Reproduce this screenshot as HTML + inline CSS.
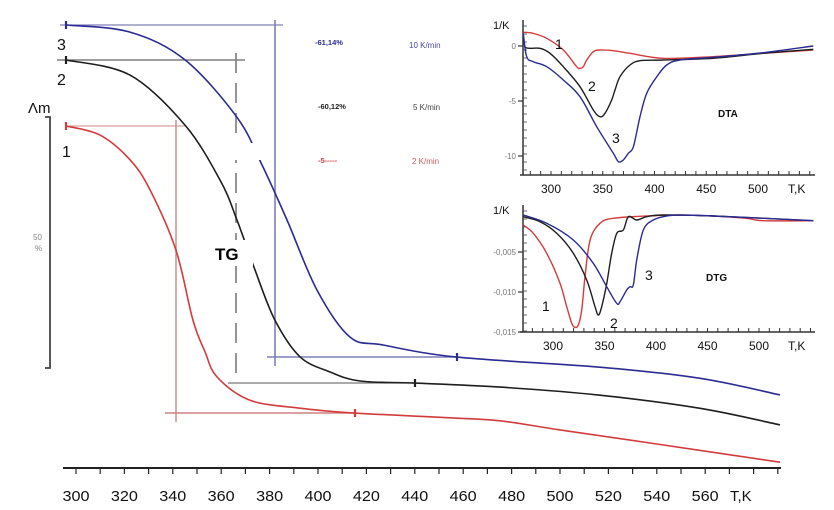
<!DOCTYPE html>
<html><head><meta charset="utf-8"><style>
html,body{margin:0;padding:0;background:#fff;}
svg{display:block;font-family:"Liberation Sans",sans-serif;}
</style></head><body>
<svg id="c" width="834" height="510" viewBox="0 0 834 510" xmlns="http://www.w3.org/2000/svg">
<g id="main"></g>
<g id="dta"></g>
<g id="dtg"></g>
</svg>
<script>
// ---- TG data (temperature K, remaining mass %) ----
const tgT1=[295.9,309.9,322.3,330.6,341.3,348.3,353.3,358.3,371.9,392.6,413.2,454.5,475.2,500,537.2,590.9];
const tgM1=[100,98.2,93.3,87.3,75.4,61.5,55.2,50.2,45.6,44.0,43.1,42.1,41.5,39.7,37.1,33.3];
const tgT2=[295.9,322.3,345,359.5,366.5,374,382.2,392.6,405,417.4,440.1,475.2,516.5,557.9,590.9];
const tgM2=[100,97.0,87.1,76.2,68.3,58.3,48.4,41.1,38.1,36.3,35.9,35.1,33.5,30.9,27.6];
const tgT3=[295.9,322.3,345,366.5,376.9,387.2,399.6,413.2,426.9,457.4,516.5,557.9,590.9];
const tgM3=[100,98.6,93.1,81.7,72.2,61.3,47.4,38.1,36.5,34.1,32.1,29.9,26.6];
const tgTicks=[300,320,340,360,380,400,420,440,460,480,500,520,540,560];
// ---- DTA data ----
const dtaT1=[273.2,282.9,295.8,311.9,324.8,328,331.2,334.5,340.9,347.3,360.2,376.3,408.5,456.8,505.1,553.4];
const dtaV1=[1.25,1.15,0.7,-0.36,-1.88,-2.03,-1.88,-1.27,-0.52,-0.36,-0.43,-0.66,-1.12,-0.97,-0.66,-0.36];
const dtaT2=[273.2,274.9,279.7,289.4,299,311.9,328,340.9,347.3,352.2,358.6,361.8,366.7,376.3,386,408.5,456.8,505.1,553.4];
const dtaV2=[0.85,-0.06,-0.21,-0.21,-0.66,-1.88,-3.7,-5.82,-6.43,-6.12,-4.91,-4,-2.79,-1.73,-1.34,-1.27,-1.12,-0.66,-0.3];
const dtaT3=[273.2,276.5,282.9,295.8,311.9,328,344.2,360.2,365.1,369.9,374.7,379.6,386,392.5,402.2,411.8,424.6,456.8,505.1,553.4];
const dtaV3=[1.15,-0.97,-1.43,-1.88,-3.09,-4.61,-7.34,-9.75,-10.52,-10.36,-9.75,-9.15,-6.43,-4.3,-2.79,-1.73,-1.27,-1.03,-0.61,0];
const dtaYTicks=[0,-5,-10];
const insetXTicks=[300,350,400,450,500];
// ---- DTG data (units of 0.001 1/K) ----
const dtgT1=[271.2,280.9,293.9,306.8,313.3,318.2,321.4,324.6,327.9,331.1,336,345.6,358.5,391,423.3,455.6,488,504.2,552.7];
const dtgV1=[-1.63,-2.66,-5.16,-8.91,-11.84,-13.91,-14.41,-14.13,-12.25,-8.09,-3.5,-1.41,-0.79,-0.5,-0.38,-0.5,-0.79,-1.09,-1.09];
const dtgT2=[271.2,287.4,303.6,319.7,332.7,340.8,344,347.3,352.2,357,361.9,368.3,373.2,381.3,391,407.1,455.6,552.7];
const dtgV2=[-0.59,-1.21,-2.66,-5.16,-8.5,-11.84,-12.88,-11.84,-8.91,-5.16,-2.66,-2.25,-0.59,-1,-0.59,-0.38,-0.5,-1.09];
const dtgT3=[271.2,293.9,319.7,339.1,352.1,361.8,365,371.6,374.8,378,381.3,387.7,397.4,410.4,423.3,455.6,552.7];
const dtgV3=[-0.38,-1.41,-3.5,-6.41,-9.34,-11.41,-11.21,-9.75,-9.34,-9.13,-6,-2.25,-1,-0.5,-0.38,-0.5,-1.09];
const dtgYTicks=[-5,-10,-15];
const dtgYLabels=["-0,005","-0,010","-0,015"];

const NS="http://www.w3.org/2000/svg";
function mk(parent,tag,attrs,text){const e=document.createElementNS(NS,tag);for(const k in attrs)e.setAttribute(k,attrs[k]);if(text!==undefined)e.textContent=text;parent.appendChild(e);return e;}
function smooth(pts){let d="M"+pts[0][0].toFixed(1)+","+pts[0][1].toFixed(1);
 for(let i=0;i<pts.length-1;i++){const p0=pts[Math.max(0,i-1)],p1=pts[i],p2=pts[i+1],p3=pts[Math.min(pts.length-1,i+2)];
 const c1=[p1[0]+(p2[0]-p0[0])/6,p1[1]+(p2[1]-p0[1])/6],c2=[p2[0]-(p3[0]-p1[0])/6,p2[1]-(p3[1]-p1[1])/6];
 d+=" C"+c1[0].toFixed(1)+","+c1[1].toFixed(1)+" "+c2[0].toFixed(1)+","+c2[1].toFixed(1)+" "+p2[0].toFixed(1)+","+p2[1].toFixed(1);}return d;}
const BLUE="#2b2b94",RED="#d23c3c",BLK="#1e1e1e";

// ===== MAIN TG =====
const M=document.getElementById('main');
const xM=T=>76+(T-300)*2.42;
const starts=[126,60,25];
const yM=(m,k)=>starts[k]+(100-m)*5.04;
// guide lines
let e;
e=mk(M,'line',{x1:60,y1:25,x2:283,y2:25,stroke:"#7f7fb8","stroke-width":1.3});

e=mk(M,'line',{x1:275,y1:20,x2:275,y2:366,stroke:"#7f7fb8","stroke-width":1.6});

e=mk(M,'line',{x1:267,y1:357,x2:457,y2:357,stroke:"#7f7fb8","stroke-width":1.5});

e=mk(M,'line',{x1:57,y1:60,x2:245,y2:60,stroke:"#666","stroke-width":1.2});

e=mk(M,'line',{x1:236,y1:53,x2:236,y2:383,stroke:"#888","stroke-width":1.8,"stroke-dasharray":"20,10"});

e=mk(M,'line',{x1:228,y1:383,x2:415,y2:383,stroke:"#777","stroke-width":1.3});

e=mk(M,'line',{x1:66,y1:126,x2:185,y2:126,stroke:"#d8a0a0","stroke-width":1.3});

e=mk(M,'line',{x1:176,y1:120,x2:176,y2:422,stroke:"#c89090","stroke-width":1.5});

e=mk(M,'line',{x1:165,y1:413,x2:355,y2:413,stroke:"#d08080","stroke-width":1.5});

// curves
[[tgT1,tgM1,RED,0],[tgT2,tgM2,BLK,1],[tgT3,tgM3,BLUE,2]].forEach(([T,Mv,col,k])=>{
 const pts=T.map((t,i)=>[xM(t),yM(Mv[i],k)]);
 const p=mk(M,'path',{d:smooth(pts),fill:"none",stroke:col,"stroke-width":1.6});
 
 
});
// gap masks
e=mk(M,'rect',{x:233,y:143,width:30,height:17,fill:"#fff"});

e=mk(M,'rect',{x:213,y:240,width:40,height:26,fill:"#fff"});

e=mk(M,'text',{x:215,y:260,"font-size":17,"font-weight":"bold",fill:"#000"},"TG");

// point markers
[[66,25,BLUE],[66,60,BLK],[66,126,RED],[457,357,BLUE],[415,383,BLK],[355,413,RED]].forEach(([x,y,c])=>{
 const m=mk(M,'line',{x1:x,y1:y-4,x2:x,y2:y+4,stroke:c,"stroke-width":2.2});
 
 
});
// curve number labels
[["3",57,50],["2",57,85],["1",62,157]].forEach(([t,x,y])=>{
 const l=mk(M,'text',{x:x,y:y,"font-size":16,fill:"#111"},t);
 
 
});
// Δm scale bar
e=mk(M,'text',{x:28,y:113,"font-size":15,fill:"#111"},"Λm");

e=mk(M,'path',{d:"M45,117 H50 V368 H45",fill:"none",stroke:"#444","stroke-width":1.8});

e=mk(M,'text',{x:33,y:240,"font-size":8,fill:"#888"},"50");

e=mk(M,'text',{x:35,y:251,"font-size":8,fill:"#888"},"%");

// legend
[["-61,14%",315,45,BLUE,"10 K/min",409,48],["-60,12%",318,109,BLK,"5 K/min",413,110],["-5-----",318,163,RED,"2 K/min",412,164]].forEach(([a,x,y,c,b,x2,y2],i)=>{
 const t1=mk(M,'text',{x:x,y:y,"font-size":7.5,"font-weight":"bold",fill:c},a);
 
 
 const t2=mk(M,'text',{x:x2,y:y2,"font-size":8,fill:c,opacity:0.85},b);
 
 
});
// x axis
e=mk(M,'line',{x1:63,y1:468,x2:781,y2:468,stroke:"#222","stroke-width":2});

for(let T=290;T<=590;T+=10){const x=xM(T);if(x<63||x>781)continue;
 const t=mk(M,'line',{x1:x,y1:468,x2:x,y2:474,stroke:"#222","stroke-width":1.2});
 
 }
tgTicks.forEach(T=>{const t=mk(M,'text',{x:xM(T),y:501,"font-size":15,"text-anchor":"middle",fill:"#111",textLength:27,lengthAdjust:"spacingAndGlyphs"},String(T));
 
 });
e=mk(M,'text',{x:730,y:501,"font-size":15,fill:"#111"},"T,K");


// ===== INSETS =====
function inset(G,name,xF,yF,y0,y1,axisY,series,yt,ylab,labs,title,tpos){
 e=mk(G,'line',{x1:523,y1:y0,x2:523,y2:axisY,stroke:"#333","stroke-width":1.5});
 
 e=mk(G,'line',{x1:520,y1:axisY,x2:815,y2:axisY,stroke:"#333","stroke-width":1.5});
 
 for(let T=280;T<=550;T+=10){const x=xF(T);
  const t=mk(G,'line',{x1:x,y1:axisY,x2:x,y2:axisY-4,stroke:"#333","stroke-width":1});
  
  }
 for(let y=y0+6;y<axisY;y+=8){const t=mk(G,'line',{x1:523,y1:y,x2:527,y2:y,stroke:"#444","stroke-width":0.8});
  
  }
 insetXTicks.forEach(T=>{const t=mk(G,'text',{x:xF(T),y:axisY+18,"font-size":12,"text-anchor":"middle",fill:"#111"},String(T));
  
  });
 e=mk(G,'text',{x:788,y:axisY+18,"font-size":12,fill:"#111"},"T,K");
 
 e=mk(G,'text',{x:493,y:y0+9,"font-size":11,fill:"#111"},"1/K");
 
 yt.forEach((v,i)=>{const y=yF(v);
  const t=mk(G,'line',{x1:518,y1:y,x2:523,y2:y,stroke:"#333","stroke-width":1.2});
  
  
  const l=mk(G,'text',{x:516,y:y+3,"font-size":8,"text-anchor":"end",fill:"#777"},ylab[i]);
  
  });
 series.forEach(([T,V,c],k)=>{const pts=T.map((t,i)=>[xF(t),yF(V[i])]);
  const p=mk(G,'path',{d:smooth(pts),fill:"none",stroke:c,"stroke-width":1.4});
  
  });
 labs.forEach(([t,x,y])=>{const l=mk(G,'text',{x:x,y:y,"font-size":14,fill:"#111"},t);
  
  });
 e=mk(G,'text',{x:tpos[0],y:tpos[1],"font-size":10,"font-weight":"bold",fill:"#111"},title);
 
}
const xD=T=>551+(T-300)*1.035;
const yD=v=>46-v*11;
inset(document.getElementById('dta'),'dta',xD,yD,20,175,175,
 [[dtaT1,dtaV1,RED],[dtaT2,dtaV2,BLK],[dtaT3,dtaV3,BLUE]],dtaYTicks,["0","-5","-10"],
 [["1",555,49],["2",588,91],["3",612,143]],"DTA",[718,117]);
const xG=T=>553+(T-300)*1.03;
const yG=v=>212-v*8;
inset(document.getElementById('dtg'),'dtg',xG,yG,205,332,332,
 [[dtgT1,dtgV1,RED],[dtgT2,dtgV2,BLK],[dtgT3,dtgV3,BLUE]],dtgYTicks,dtgYLabels,
 [["1",542,311],["2",610,328],["3",645,280]],"DTG",[706,281]);
</script>
</body></html>
